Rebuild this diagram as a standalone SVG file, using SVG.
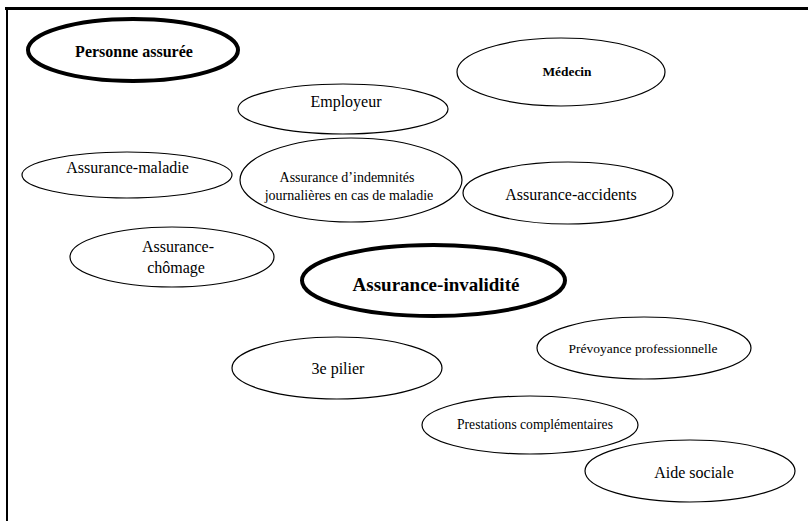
<svg xmlns="http://www.w3.org/2000/svg" width="808" height="521" viewBox="0 0 808 521">
<style>
.n{fill:#fff;stroke:#000;stroke-width:1.2}
.k{fill:#fff;stroke:#000;stroke-width:4}
text{font-family:"Liberation Serif","Times New Roman",serif;fill:#000;text-anchor:middle}
.b{font-weight:bold}
</style>
<rect width="808" height="521" fill="#fff"/>
<g id="frame">
<line x1="5" y1="8.5" x2="808" y2="8.5" stroke="#000" stroke-width="3"/>
<line x1="7" y1="7" x2="7" y2="521" stroke="#000" stroke-width="2"/>
</g>
<g id="connectors"></g>
<g id="personne-assuree">
<ellipse class="k" cx="133" cy="50" rx="105" ry="31"/>
<text class="b" x="134" y="57" font-size="16">Personne assurée</text>
</g>
<g id="employeur">
<ellipse class="n" cx="343" cy="109" rx="105" ry="25"/>
<text x="346" y="107" font-size="16">Employeur</text>
</g>
<g id="medecin">
<ellipse class="n" cx="561" cy="72" rx="104" ry="34"/>
<text class="b" x="567" y="76" font-size="13.4">Médecin</text>
</g>
<g id="assurance-maladie">
<ellipse class="n" cx="127" cy="175" rx="105" ry="23"/>
<text x="127.5" y="173" font-size="16">Assurance-maladie</text>
</g>
<g id="indemnites">
<ellipse class="n" cx="351" cy="180" rx="111" ry="42"/>
<text x="347" y="182" font-size="14">Assurance d’indemnités</text>
<text x="349" y="200" font-size="14">journalières en cas de maladie</text>
</g>
<g id="assurance-accidents">
<ellipse class="n" cx="568" cy="193" rx="105" ry="31"/>
<text x="571" y="200" font-size="16">Assurance-accidents</text>
</g>
<g id="assurance-chomage">
<ellipse class="n" cx="172" cy="257" rx="102" ry="30"/>
<text x="178" y="252" font-size="16">Assurance-</text>
<text x="176" y="273" font-size="16">chômage</text>
</g>
<g id="assurance-invalidite">
<ellipse class="k" cx="433.5" cy="280.5" rx="131.5" ry="35.5"/>
<text class="b" x="436" y="291" font-size="19">Assurance-invalidité</text>
</g>
<g id="troisieme-pilier">
<ellipse class="n" cx="337" cy="368" rx="105" ry="31"/>
<text x="338" y="374" font-size="16">3e pilier</text>
</g>
<g id="prevoyance">
<ellipse class="n" cx="644" cy="348" rx="107" ry="31"/>
<text x="643" y="353" font-size="13.5">Prévoyance professionnelle</text>
</g>
<g id="prestations">
<ellipse class="n" cx="530" cy="425" rx="108" ry="29"/>
<text x="535" y="429" font-size="13.6">Prestations complémentaires</text>
</g>
<g id="aide-sociale">
<ellipse class="n" cx="690" cy="471" rx="105" ry="31"/>
<text x="694" y="478" font-size="16">Aide sociale</text>
</g>
</svg>
